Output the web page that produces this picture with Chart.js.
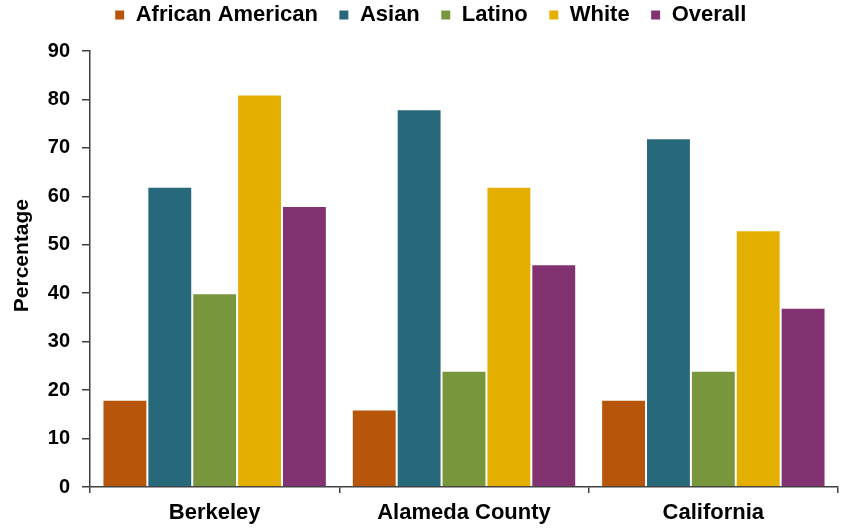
<!DOCTYPE html>
<html>
<head>
<meta charset="utf-8">
<script src="https://cdn.jsdelivr.net/npm/chart.js@4/dist/chart.umd.min.js"></script>
<style>
html,body{margin:0;padding:0;background:#fff;}
#wrap{width:841px;height:529px;position:relative;}
</style>
</head>
<body>
<div id="wrap"><canvas id="c" width="841" height="529"></canvas></div>
<script>
const categories = ["Berkeley", "Alameda County", "California"];
const africanAmerican = [18, 16, 18];
const asian = [62, 78, 72];
const latino = [40, 24, 24];
const white = [81, 62, 53];
const overall = [58, 46, 37];
const yTicks = [0, 10, 20, 30, 40, 50, 60, 70, 80, 90];

const FONT = "'Liberation Sans', Arial, sans-serif";
Chart.defaults.font.family = FONT;
Chart.defaults.color = "#000";

const mk = (label, data, color) => ({
  label, data, backgroundColor: color, borderColor: "#ffffff", borderWidth: 1,
  barPercentage: 1.0, categoryPercentage: 0.9
});

new Chart(document.getElementById("c"), {
  type: "bar",
  data: {
    labels: categories,
    datasets: [
      mk("African American", africanAmerican, "#B7560A"),
      mk("Asian", asian, "#27697A"),
      mk("Latino", latino, "#78963C"),
      mk("White", white, "#E5AF00"),
      mk("Overall", overall, "#833271")
    ]
  },
  options: {
    responsive: false,
    animation: false,
    layout: { padding: { left: 23, right: 3, top: -17, bottom: 0 } },
    plugins: {
      legend: {
        position: "top",
        labels: {
          boxWidth: 10, boxHeight: 10, padding: 21,
          font: { size: 22, weight: "bold", family: FONT },
          color: "#000"
        }
      },
      title: {
        display: true, text: "", position: "top", weight: 500,
        font: { size: 1, lineHeight: 1 }, padding: { top: 14, bottom: 0 }
      },
      tooltip: { enabled: false }
    },
    scales: {
      x: {
        offset: true,
        afterFit: (s) => { s.height = 42; },
        grid: { offset: true, drawOnChartArea: false, drawTicks: true, tickLength: 6, color: "#404040", lineWidth: 1.5 },
        border: { display: true, color: "#404040", width: 1.5 },
        ticks: { font: { size: 22, weight: "bold", family: FONT }, color: "#000", padding: 7, maxRotation: 0 }
      },
      y: {
        min: 0, max: 90,
        afterBuildTicks: (s) => { s.ticks = yTicks.map(v => ({ value: v })); },
        afterFit: (s) => { s.width = 67; },
        grid: { drawOnChartArea: false, drawTicks: true, tickLength: 8, color: "#404040", lineWidth: 1.5 },
        border: { display: true, color: "#404040", width: 1.5 },
        ticks: { font: { size: 20, weight: "bold", family: FONT }, color: "#000", padding: 12 },
        title: { display: true, text: "\u2002\u2002 Percentage", font: { size: 21, weight: "bold", family: FONT }, color: "#000", padding: { top: -13, bottom: 0 } }
      }
    }
  }
});
</script>
</body>
</html>
